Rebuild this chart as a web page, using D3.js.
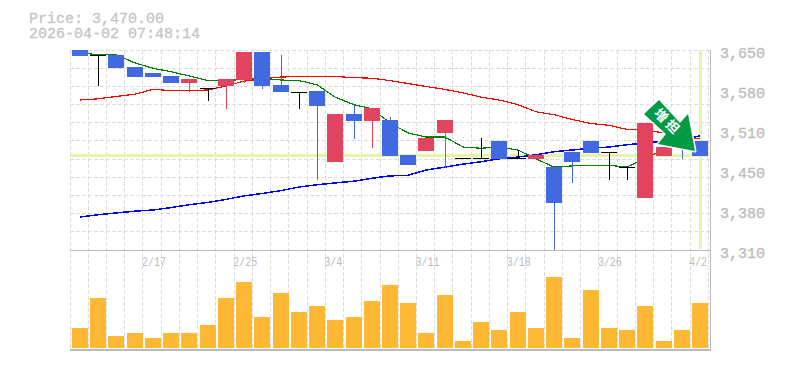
<!DOCTYPE html>
<html>
<head>
<meta charset="utf-8">
<script src="https://cdn.jsdelivr.net/npm/d3@7"></script>
<style>
  html, body { margin: 0; padding: 0; background: #fff; }
  svg { display: block; }
</style>
</head>
<body>
<svg id="chart"></svg>
<script>
const priceText = "Price: 3,470.00";
const timeText = "2026-04-02 07:48:14";

const opens = [3650,3642,3641,3621,3611,3606,3594,3585,3589,3599,3647,3590,3579,3580,3460,3541,3529,3531,3471,3478,3509,3466,3466,3495,3466,3465,3451,3477,3495,3476,3451,3398,3470,3491,3495];
const closes = [3640,3642,3619,3604,3604,3594,3601,3585,3601,3647,3589,3579,3579,3555,3541,3529,3551,3470,3455,3500,3531,3466,3466,3465,3466,3471,3390,3460,3475,3476,3451,3526,3485,3483,3470];
const highs = [3650,3642,3641,3621,3611,3606,3601,3585,3601,3647,3647,3641,3579,3580,3541,3556,3551,3536,3471,3500,3531,3466,3500,3495,3480,3471,3451,3477,3495,3476,3451,3526,3485,3491,3495];
const lows = [3640,3589,3619,3604,3604,3594,3579,3563,3550,3594,3584,3579,3550,3429,3460,3499,3483,3470,3455,3478,3449,3466,3466,3465,3466,3465,3310,3424,3475,3429,3429,3398,3470,3465,3470];

const maGreen = [3645,3642,3642,3628,3619,3613,3606,3598,3597,3601,3602,3599,3598,3591,3570,3557,3550,3526,3509,3502,3502,3485,3483,3485,3480,3465,3451,3453,3453,3454,3451,3466,3480,3488,3495];
const maRed = [3565,3567,3571,3575,3583,3581,3581,3582,3589,3597,3601,3604,3605,3605,3605,3603,3602,3598,3593,3588,3583,3577,3570,3565,3557,3545,3540,3532,3525,3522,3515,3514,3509,3504,3499];
const maBlue = [3366,3370,3373,3376,3378,3382,3387,3391,3396,3402,3406,3411,3417,3421,3424,3427,3432,3436,3437,3446,3451,3456,3460,3465,3468,3472,3477,3480,3483,3485,3489,3492,3495,3499,3504];

const volumes = [20,50,12,15,10,15,15,23,50,66,31,55,36,42,28,31,47,63,45,15,53,7,26,18,36,20,71,10,58,20,18,42,7,18,45];

const priceTicks = [3650,3582,3514,3446,3378,3310];
const dateTicks = [4,9,14,19,24,29,34];
const dateLabels = ["2/17","2/25","3/4","3/11","3/18","3/26","4/2"];
const currentPrice = 3470;
const arrowLabel = "増担";

const width = 785;
const height = 370;
const left = 70;
const right = 710;
const top_ = 50;
const paneBottom = 250;
const volBottom = 348;
const frameBottom = 350;
const barW = 16;

const svg = d3.select("#chart").attr("width", width).attr("height", height);

// bars and grid step a little differently in the original, so two scales
const x = d3.scaleBand().domain(d3.range(opens.length)).range([70.4, 708.8]);
const xGrid = d3.scaleLinear().domain([0, opens.length]).range([70.05, 708.3]);
const y = d3.scaleLinear().domain([3310, 3650]).range([paneBottom, top_]);
const yVol = d3.scaleLinear().domain([0, 98]).range([volBottom, paneBottom]);

const barX = (i) => Math.floor(x(i)) + 2;
const midX = (i) => barX(i) + barW / 2;
const py = (v) => Math.round(y(v));

// grid
const grid = svg.append("g").attr("stroke", "#ddd").attr("stroke-dasharray", "4,2").attr("shape-rendering", "crispEdges");
grid.selectAll("line.v")
  .data(d3.range(opens.length + 1))
  .join("line")
  .attr("class", "v")
  .attr("x1", (i) => Math.floor(xGrid(i)) + 0.5)
  .attr("x2", (i) => Math.floor(xGrid(i)) + 0.5)
  .attr("y1", top_)
  .attr("y2", frameBottom);
grid.selectAll("line.h")
  .data(d3.range(1, 12).map((k) => 3310 + (k * 340) / 11))
  .join("line")
  .attr("class", "h")
  .attr("x1", left)
  .attr("x2", right)
  .attr("y1", (d) => Math.floor(y(d)) + 0.5)
  .attr("y2", (d) => Math.floor(y(d)) + 0.5);

// current price cross
svg.append("rect")
  .attr("x", left).attr("width", right - left - 2)
  .attr("y", py(currentPrice) - 2).attr("height", 3)
  .attr("fill", "#e4f4a8");
svg.append("rect")
  .attr("x", barX(34) + 7).attr("width", 3)
  .attr("y", top_).attr("height", paneBottom - top_ - 1)
  .attr("fill", "#e4f4a8");

// frame
const frame = svg.append("g").attr("stroke", "#bbb").attr("shape-rendering", "crispEdges");
frame.append("line").attr("x1", left).attr("x2", right).attr("y1", paneBottom).attr("y2", paneBottom);
frame.append("line").attr("x1", left).attr("x2", right + 1).attr("y1", frameBottom).attr("y2", frameBottom).attr("stroke-width", 2);
frame.append("line").attr("x1", right).attr("x2", right).attr("y1", top_).attr("y2", frameBottom);

// moving averages
const line = d3.line().x((d, i) => midX(i)).y((d) => y(d));
[[maRed, "#f00", 1.2], [maBlue, "#00f", 1.5], [maGreen, "#008000", 1.2]].forEach(([s, c, w]) => {
  svg.append("path")
    .attr("d", line(s))
    .attr("fill", "none")
    .attr("stroke", c)
    .attr("stroke-width", w)
    .attr("shape-rendering", "crispEdges");
});

// candles
const candleColor = (i) =>
  opens[i] === closes[i] ? "#000" : closes[i] > opens[i] ? "#e2435f" : "#4169e1";
const candles = svg.append("g").attr("shape-rendering", "crispEdges");
candles.selectAll("rect.wick")
  .data(d3.range(opens.length))
  .join("rect")
  .attr("class", "wick")
  .attr("x", (i) => barX(i) + barW / 2)
  .attr("width", 1)
  .attr("y", (i) => py(highs[i]))
  .attr("height", (i) => py(lows[i]) - py(highs[i]))
  .attr("fill", candleColor);
candles.selectAll("rect.body")
  .data(d3.range(opens.length))
  .join("rect")
  .attr("class", "body")
  .attr("x", barX)
  .attr("width", barW)
  .attr("y", (i) => py(Math.max(opens[i], closes[i])))
  .attr("height", (i) => Math.max(1, py(Math.min(opens[i], closes[i])) - py(Math.max(opens[i], closes[i]))))
  .attr("fill", candleColor);

// volume
svg.append("g").attr("shape-rendering", "crispEdges")
  .selectAll("rect")
  .data(volumes)
  .join("rect")
  .attr("x", (d, i) => barX(i))
  .attr("width", barW)
  .attr("y", (d) => yVol(d))
  .attr("height", (d) => volBottom - yVol(d))
  .attr("fill", "#ffb833");

// labels
const mono = "'Liberation Mono', monospace";
svg.append("g")
  .attr("transform", `translate(${right + 1},3)`)
  .call(d3.axisRight(y).tickValues(priceTicks).tickSize(0).tickPadding(9)
    .tickFormat((d) => d3.format(",")(Math.round(d / 10) * 10)))
  .call((g) => g.select(".domain").remove())
  .selectAll("text")
  .attr("font-family", mono)
  .attr("font-size", 15)
  .attr("fill", "#bbb")
  .attr("stroke", "#bbb")
  .attr("stroke-width", 0.3);

svg.selectAll("text.date")
  .data(dateTicks)
  .join("text")
  .attr("class", "date")
  .attr("x", (i) => xGrid(i) - 1)
  .attr("y", 266)
  .attr("font-family", mono)
  .attr("font-size", 12)
  .attr("fill", "#bbb")
  .attr("textLength", (d, i) => dateLabels[i].length * 6)
  .attr("lengthAdjust", "spacingAndGlyphs")
  .text((d, i) => dateLabels[i]);

[[priceText, 23], [timeText, 38]].forEach(([t, base]) => {
  svg.append("text")
    .attr("x", 29)
    .attr("y", base)
    .attr("font-family", mono)
    .attr("font-size", 15)
    .attr("fill", "#c4c4c4")
    .attr("stroke", "#c4c4c4")
    .attr("stroke-width", 0.3)
    .text(t);
});

// signal arrow, tip sits on the last candle
const arrowShape = [[-36, -51], [-51, -37], [-29, -17], [-37, -7], [0, 0], [-7, -37], [-15, -28]];
const arrow = svg.append("g").attr("transform", `translate(${barX(33) + 21},${py(currentPrice) - 5})`);
arrow.append("polygon")
  .attr("points", arrowShape.join(" "))
  .attr("fill", "#009944")
  .attr("stroke", "#fff")
  .attr("stroke-width", 3)
  .attr("stroke-linejoin", "round")
  .attr("paint-order", "stroke");
arrow.append("text")
  .attr("transform", "translate(-27,-29) rotate(45)")
  .attr("text-anchor", "middle")
  .attr("dy", "0.36em")
  .attr("font-family", "'Noto Sans CJK JP'")
  .attr("font-weight", 700)
  .attr("font-size", 13)
  .attr("letter-spacing", 3)
  .attr("fill", "#fff")
  .text(arrowLabel);
</script>
</body>
</html>
